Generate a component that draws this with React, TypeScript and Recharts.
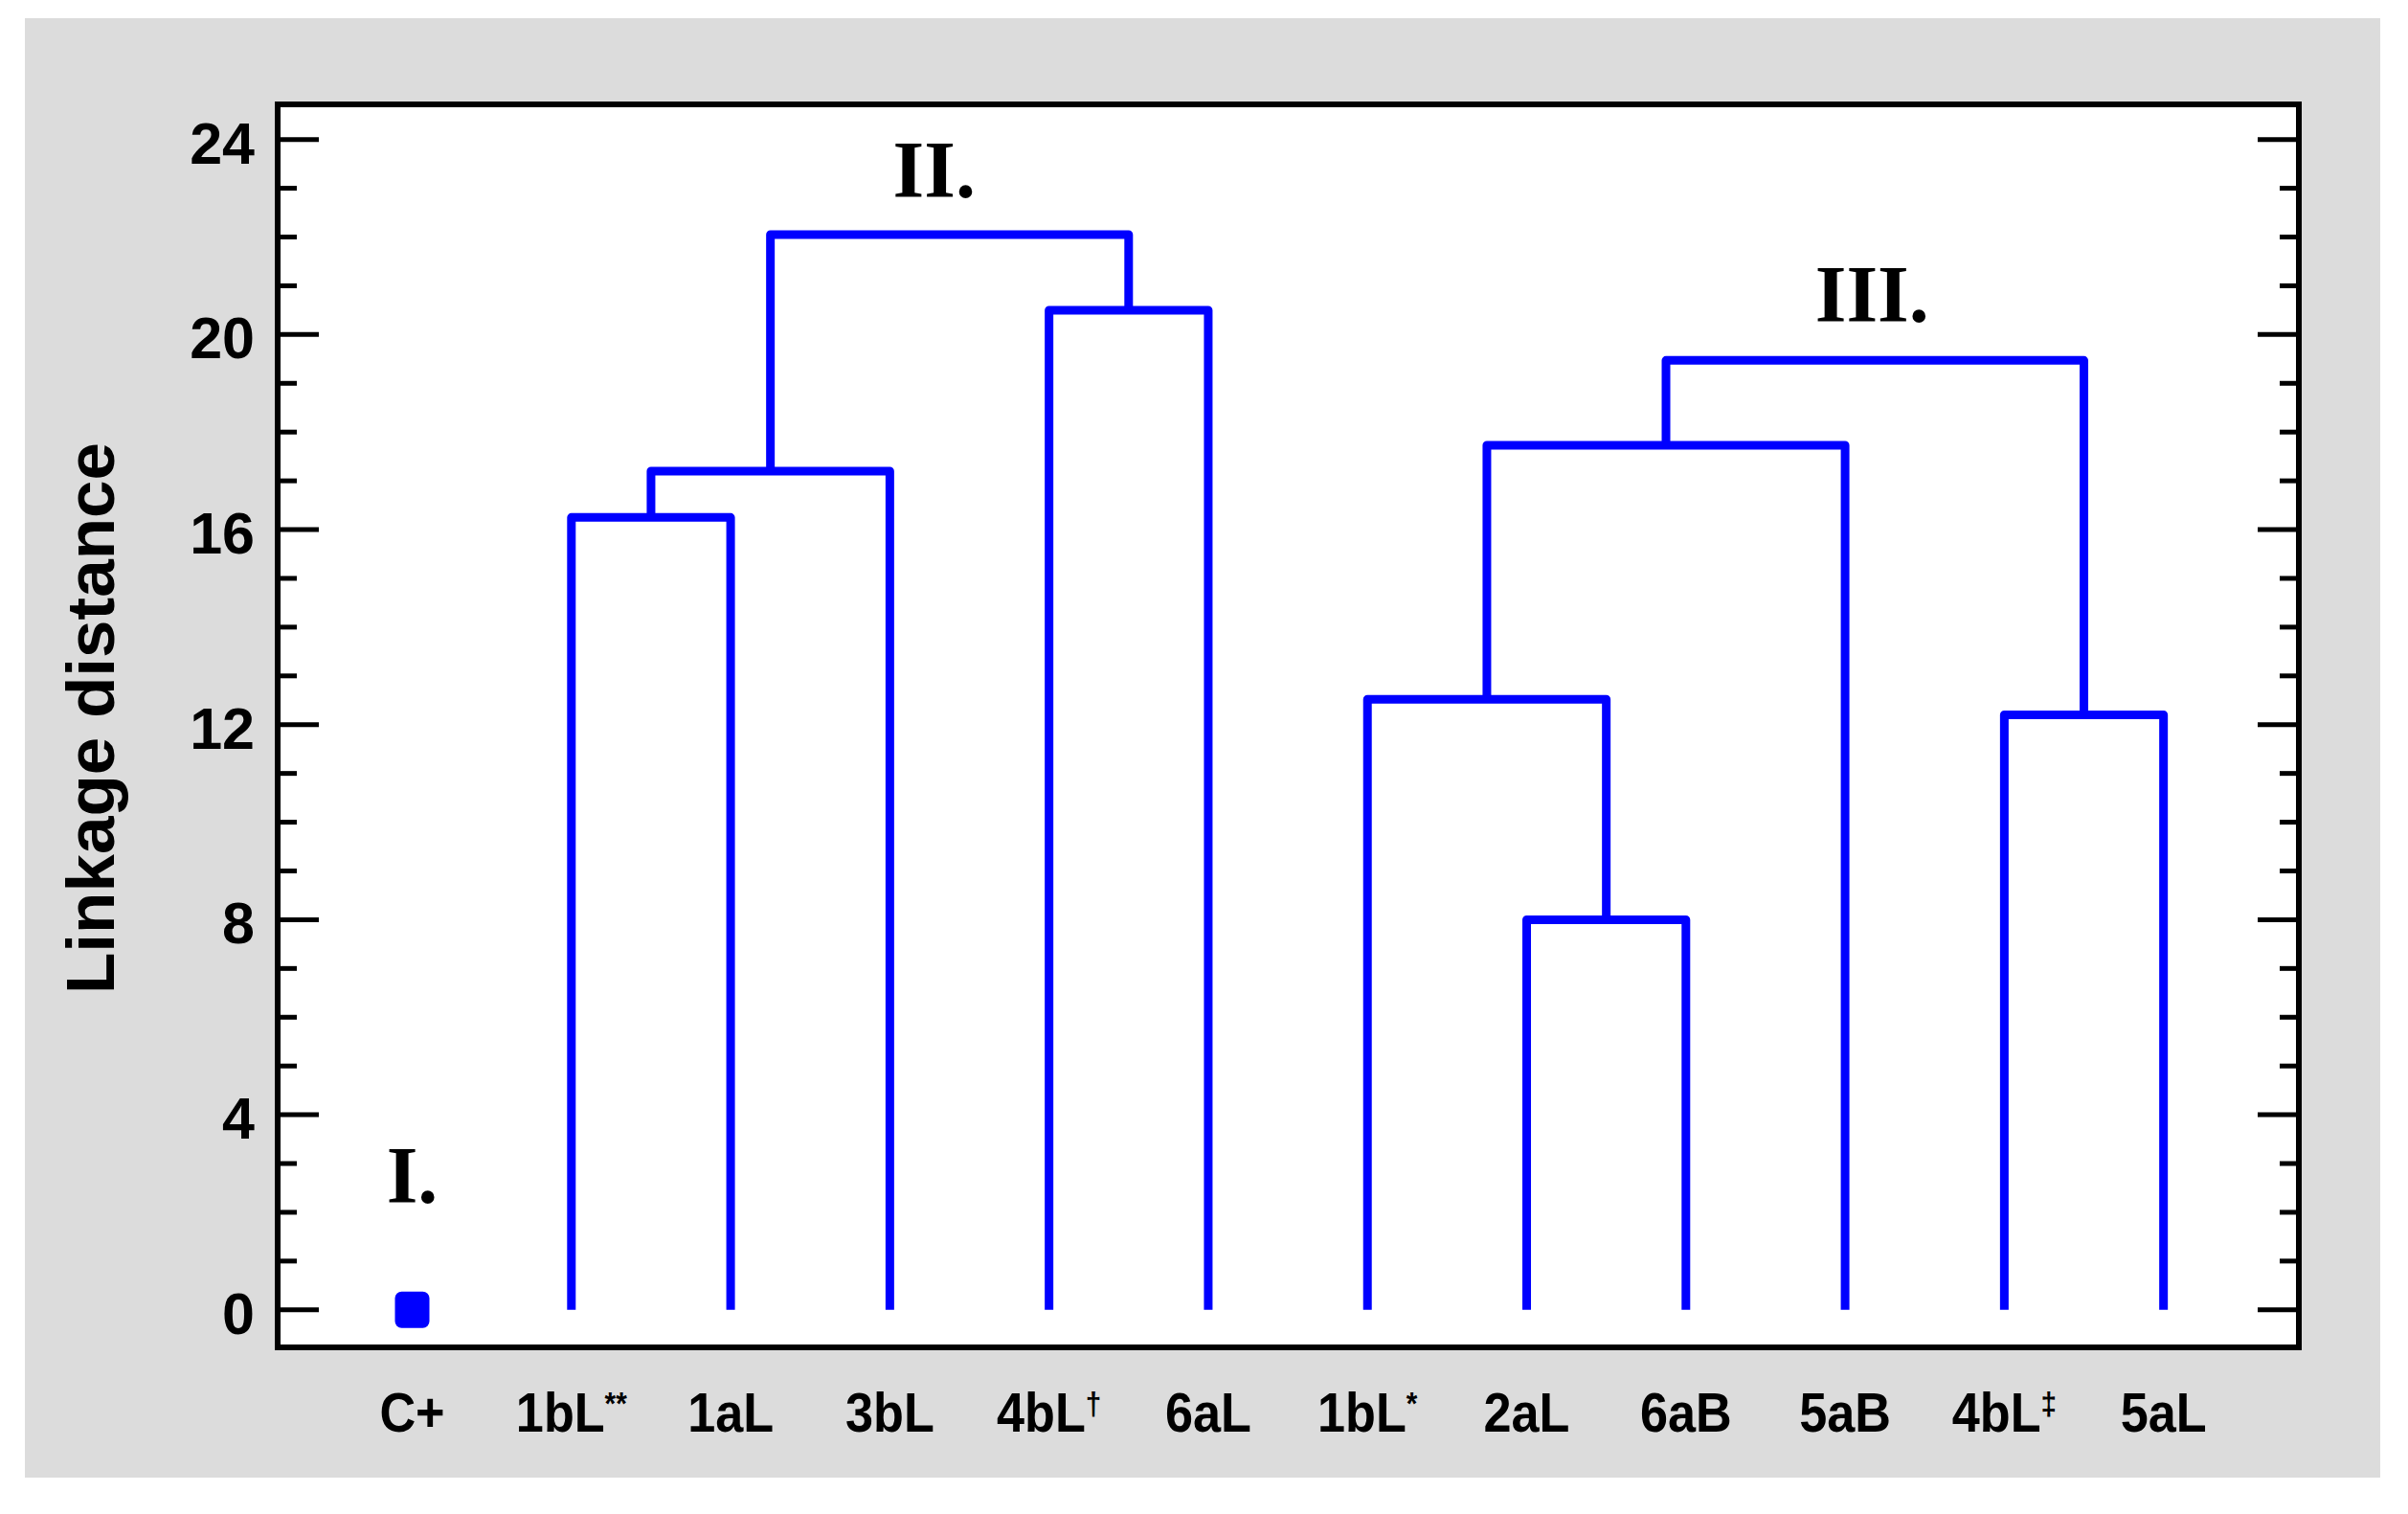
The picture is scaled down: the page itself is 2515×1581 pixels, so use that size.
import React from 'react';
import {
  ComposedChart,
  Line,
  Scatter,
  XAxis,
  YAxis,
  CartesianGrid,
  ReferenceArea,
} from 'recharts';

// leaves, left to right
const leafNames = ['C+', '1bL', '1aL', '3bL', '4bL', '6aL', '1bL', '2aL', '6aB', '5aB', '4bL', '5aL'];
const leafMarks = ['', '**', '', '', '\u2020', '', '*', '', '', '', '\u2021', ''];

// linkage rows; ids >= 12 point to earlier rows (12 = first row, ...)
const mergeLeft = [1, 12, 4, 13, 7, 6, 10, 17, 19];
const mergeRight = [2, 3, 5, 14, 8, 16, 11, 9, 18];
const mergeHeight = [16.25, 17.2, 20.5, 22.05, 8.0, 12.52, 12.2, 17.73, 19.47];

const clusterLabels = ['I.', 'II.', 'III.'];
const clusterNodes = [0, 15, 20];

const majorTicks = [0, 4, 8, 12, 16, 20, 24];
const minorTicks = [0, 1, 2, 3, 4, 5, 6, 7, 8, 9, 10, 11, 12, 13, 14, 15, 16, 17, 18, 19, 20, 21, 22, 23, 24];

const BLUE = '#0000ff';
const SANS = '"Liberation Sans", Arial, sans-serif';
const SERIF = '"Liberation Serif", "Times New Roman", serif';

const xDomain = [-0.845, 11.85];
const yDomain = [-0.77, 24.72];

// node positions: leaves at their index, merges at the mean of children
const nodeX: number[] = leafNames.map((_, i) => i);
const nodeH: number[] = leafNames.map(() => 0);
mergeLeft.forEach((l, k) => {
  const r = mergeRight[k];
  nodeX.push((nodeX[l] + nodeX[r]) / 2);
  nodeH.push(mergeHeight[k]);
});

const links = mergeLeft.map((l, k) => {
  const r = mergeRight[k];
  const h = mergeHeight[k];
  return [
    { x: nodeX[l], y: nodeH[l] },
    { x: nodeX[l], y: h },
    { x: nodeX[r], y: h },
    { x: nodeX[r], y: nodeH[r] },
  ];
});

const singles = [{ x: nodeX[0], y: nodeH[0] }];
const annotations = clusterNodes.map((n, i) => ({ x: nodeX[n], y: nodeH[n], i }));
const annOffset = [
  { dx: 0, dy: -112 },
  { dx: -16, dy: -39 },
  { dx: -3, dy: -40 },
];

const LeftTick = ({ x, y, payload }: any) => {
  const major = majorTicks.includes(payload.value);
  return (
    <g>
      <line x1={x} x2={x + (major ? 43 : 20)} y1={y} y2={y} stroke="#000" strokeWidth={5} />
      {major && (
        <text x={x - 24} y={y} dy={25} textAnchor="end" fontSize={61} fontWeight="bold" fontFamily={SANS} fill="#000">
          {payload.value}
        </text>
      )}
    </g>
  );
};

const RightTick = ({ x, y, payload }: any) => {
  const major = majorTicks.includes(payload.value);
  return <line x1={x} x2={x - (major ? 43 : 20)} y1={y} y2={y} stroke="#000" strokeWidth={5} />;
};

const LeafTick = ({ x, y, payload }: any) => {
  const i = payload.value;
  return (
    <g transform={`translate(${x}, ${y + 88}) scale(0.9, 1)`}>
      <text x={0} y={0} textAnchor="middle" fontSize={58} fontWeight="bold" fontFamily={SANS} fill="#000">
        {leafNames[i]}
        {leafMarks[i] && (
          <tspan dy={-18} fontSize={33}>
            {leafMarks[i]}
          </tspan>
        )}
      </text>
    </g>
  );
};

const renderYLabel = ({ viewBox }: any) => {
  const x = viewBox.x + 29;
  const y = viewBox.y + viewBox.height / 2 - 8;
  return (
    <text x={x} y={y} transform={`rotate(-90, ${x}, ${y})`} textAnchor="middle" fontSize={71} fontWeight="bold" fontFamily={SANS} fill="#000">
      Linkage distance
    </text>
  );
};

export default function App() {
  return (
    <div style={{ position: 'absolute', left: 0, top: 0, width: 2515, height: 1581, background: '#fff' }}>
      <div style={{ position: 'absolute', left: 26, top: 19, width: 2460, height: 1524, background: '#dcdcdc' }} />
      <div style={{ position: 'absolute', left: 0, top: 0 }}>
        <ComposedChart width={2515} height={1581} margin={{ top: 109, right: 104, bottom: 74, left: 90 }}>
          <CartesianGrid horizontal={false} vertical={false} fill="#fff" />
          <XAxis
            dataKey="x"
            type="number"
            domain={xDomain}
            allowDataOverflow
            ticks={leafNames.map((_, i) => i)}
            interval={0}
            tick={<LeafTick />}
            tickSize={0}
            tickMargin={0}
            axisLine={false}
            tickLine={false}
            height={100}
          />
          <YAxis
            type="number"
            domain={yDomain}
            allowDataOverflow
            ticks={minorTicks}
            interval={0}
            tick={<LeftTick />}
            tickSize={0}
            tickMargin={0}
            axisLine={false}
            tickLine={false}
            width={200}
            label={renderYLabel}
          />
          <YAxis
            yAxisId="right"
            orientation="right"
            type="number"
            domain={yDomain}
            allowDataOverflow
            ticks={minorTicks}
            interval={0}
            tick={<RightTick />}
            tickSize={0}
            tickMargin={0}
            axisLine={false}
            tickLine={false}
            width={10}
          />
          <ReferenceArea
            x1={xDomain[0]}
            x2={xDomain[1]}
            y1={yDomain[0]}
            y2={yDomain[1]}
            fill="none"
            fillOpacity={0}
            stroke="#000"
            strokeWidth={6}
            ifOverflow="visible"
          />
          {links.map((pts, k) => (
            <Line
              key={`link-${k}`}
              data={pts}
              dataKey="y"
              type="linear"
              stroke={BLUE}
              strokeWidth={9}
              strokeLinejoin="round"
              dot={false}
              activeDot={false}
              isAnimationActive={false}
            />
          ))}
          <Scatter
            data={singles}
            dataKey="y"
            isAnimationActive={false}
            shape={({ cx, cy }: any) => <rect x={cx - 18} y={cy - 19} width={36} height={38} rx={7} fill={BLUE} />}
          />
          <Scatter
            data={annotations}
            dataKey="y"
            isAnimationActive={false}
            shape={({ cx, cy, payload }: any) => {
              const o = annOffset[payload.i];
              return (
                <text x={cx + o.dx} y={cy + o.dy} textAnchor="middle" fontSize={84} fontWeight="bold" fontFamily={SERIF} fill="#000">
                  {clusterLabels[payload.i]}
                </text>
              );
            }}
          />
        </ComposedChart>
      </div>
    </div>
  );
}
